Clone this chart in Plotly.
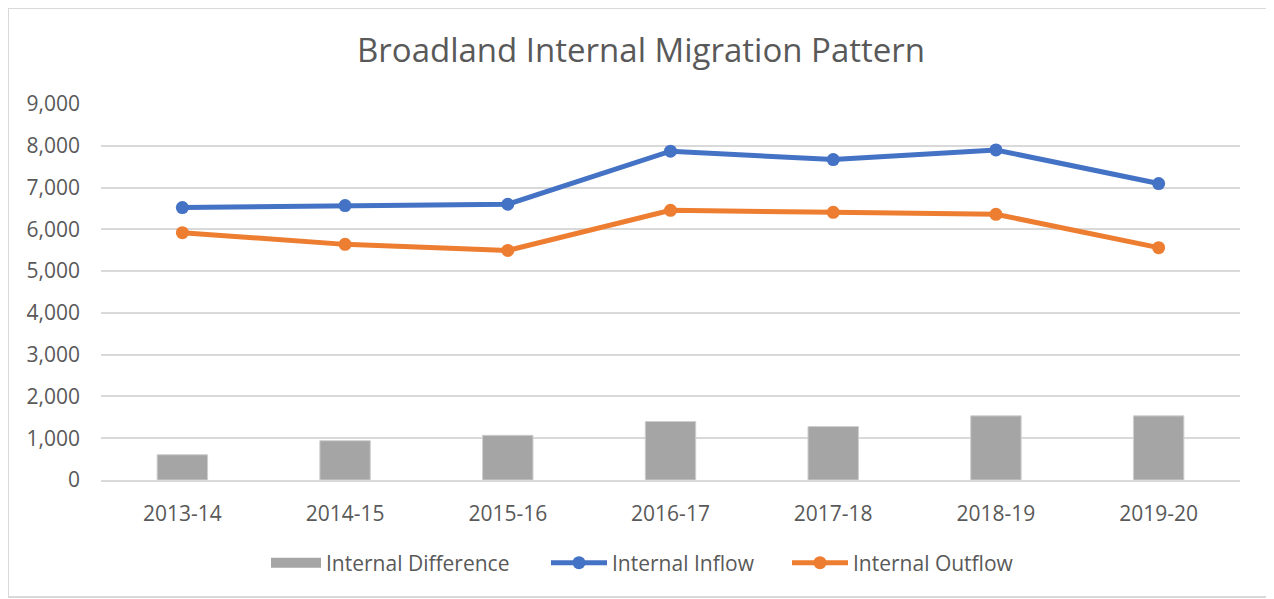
import plotly.graph_objects as go

categories = ["2013-14", "2014-15", "2015-16", "2016-17", "2017-18", "2018-19", "2019-20"]
internal_inflow = [6520, 6568, 6600, 7870, 7670, 7900, 7096]
internal_outflow = [5920, 5640, 5496, 6456, 6408, 6360, 5561]
internal_difference = [605, 941, 1070, 1400, 1280, 1535, 1535]
y_ticks = [0, 1000, 2000, 3000, 4000, 5000, 6000, 7000, 8000, 9000]

# page body has an 8px margin; lay out in page pixels and shift
OFF = 8
W, H = 1274 - OFF, 599 - OFF
PL, PR, PT, PB = 101, 1240, 104, 480  # plot area in page pixels
L, R, T, B = PL - OFF, (1274 - OFF) - (PR - OFF), PT - OFF, H - (PB - OFF)
pw, ph = W - L - R, H - T - B

font_family = "Open Sans"
text_color = "#595959"
grid_color = "#d9d9d9"
gray = "#A5A5A5"
blue = "#4472C4"
orange = "#ED7D31"


def px_x(p):
    return (p - OFF - L) / pw


def px_y(p):
    return (H - B - (p - OFF)) / ph


def cx(p):
    return (p - OFF) / W


fig = go.Figure()
fig.add_trace(go.Bar(
    x=categories, y=internal_difference, name="Internal Difference",
    marker=dict(color=gray, line=dict(color="#cfcfcf", width=1)),
    width=0.31, showlegend=False,
))
# legend entry for the bars (wide rectangle swatch like the original)
fig.add_trace(go.Scatter(
    x=[categories[0]], y=[None], name="Internal Difference", mode="lines",
    line=dict(color=gray, width=14), legend="legend",
))
fig.add_trace(go.Scatter(
    x=categories, y=internal_inflow, name="Internal Inflow", mode="lines+markers",
    line=dict(color=blue, width=5), marker=dict(size=13, color=blue), legend="legend2",
))
fig.add_trace(go.Scatter(
    x=categories, y=internal_outflow, name="Internal Outflow", mode="lines+markers",
    line=dict(color=orange, width=5), marker=dict(size=13, color=orange), legend="legend3",
))

leg_common = dict(orientation="h", xref="container", xanchor="left", yanchor="middle",
                  y=px_y(563), font=dict(size=21, color=text_color),
                  bgcolor="rgba(0,0,0,0)", borderwidth=0)

fig.update_layout(
    width=W, height=H,
    margin=dict(l=L, r=R, t=T, b=B, autoexpand=False),
    paper_bgcolor="white", plot_bgcolor="white",
    font=dict(family=font_family, color=text_color, size=21),
    title=dict(text="Broadland Internal Migration Pattern", x=0.5, xanchor="center",
               y=1 - (50 - OFF) / H, yanchor="middle", yref="container",
               font=dict(size=33, color=text_color, family=font_family)),
    showlegend=True,
    legend=dict(x=cx(266), itemwidth=50, **leg_common),
    legend2=dict(x=cx(546), itemwidth=56, **leg_common),
    legend3=dict(x=cx(787), itemwidth=56, **leg_common),
    bargap=0.69,
    hovermode=False,
    shapes=[dict(type="rect", xref="paper", yref="paper",
                 x0=px_x(8), x1=px_x(1269), y0=px_y(597), y1=px_y(8),
                 line=dict(color=grid_color, width=2), fillcolor="rgba(0,0,0,0)", layer="below")],
)
fig.update_xaxes(type="category", showgrid=False, showline=True, linecolor=grid_color, linewidth=2,
                 ticks="", ticklabelstandoff=14, tickfont=dict(size=21, color=text_color))
fig.update_yaxes(range=[0, 9000], tickvals=y_ticks, tickformat=",", showgrid=True,
                 gridcolor=grid_color, gridwidth=2, zeroline=False, showline=False,
                 ticks="", ticklabelstandoff=20, tickfont=dict(size=21, color=text_color))

fig.write_html("out.html")
